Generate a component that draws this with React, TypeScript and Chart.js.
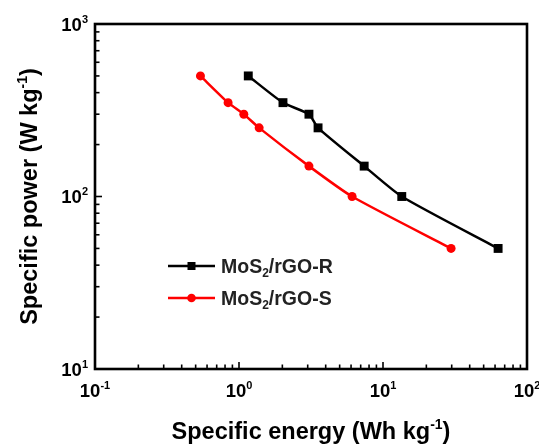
import React, { useEffect, useRef } from 'react';
import { Chart, registerables } from 'chart.js';

Chart.register(...registerables);

// ---- data ----
const seriesNames = ['MoS2/rGO-R', 'MoS2/rGO-S'];
const energyR = [1.16, 2.02, 3.06, 3.54, 7.4, 13.5, 63];
const powerR = [500, 350, 300, 250, 150, 100, 50];
const energyS = [0.54, 0.84, 1.08, 1.38, 3.06, 6.1, 29.7];
const powerS = [500, 350, 300, 250, 150, 100, 50];
const xDecades = [-1, 0, 1, 2];
const yDecades = [1, 2, 3];
const xTitle = 'Specific energy (Wh kg';
const yTitle = 'Specific power (W kg';
const unitExp = '-1';

const FONT = '"Liberation Sans", Arial, sans-serif';

type Part = { t: string; sup?: boolean; sub?: boolean };

function drawRich(
  ctx: CanvasRenderingContext2D,
  parts: Part[],
  x: number,
  y: number,
  size: number,
  align: 'left' | 'center' | 'right',
  weight: string,
  color: string
) {
  const fontFor = (p: Part) => `${weight} ${p.sup || p.sub ? Math.round(size * 0.6) : size}px ${FONT}`;
  let total = 0;
  const widths = parts.map((p) => {
    ctx.font = fontFor(p);
    const w = ctx.measureText(p.t).width;
    total += w;
    return w;
  });
  let cx = align === 'left' ? x : align === 'center' ? x - total / 2 : x - total;
  ctx.fillStyle = color;
  ctx.textBaseline = 'alphabetic';
  ctx.textAlign = 'left';
  parts.forEach((p, i) => {
    ctx.font = fontFor(p);
    const dy = p.sup ? -size * 0.42 : p.sub ? size * 0.22 : 0;
    ctx.fillText(p.t, cx, y + dy);
    cx += widths[i];
  });
}

function buildLogTicks(decades: number[]) {
  const out: { value: number }[] = [];
  for (let i = 0; i < decades.length; i++) {
    const base = Math.pow(10, decades[i]);
    if (i === decades.length - 1) {
      out.push({ value: base });
    } else {
      for (let m = 1; m <= 9; m++) out.push({ value: m * base });
    }
  }
  return out;
}

function labelParts(name: string): Part[] {
  const idx = name.indexOf('2');
  return [{ t: name.slice(0, idx) }, { t: '2', sub: true }, { t: name.slice(idx + 1) }];
}

const decorPlugin = {
  id: 'decor',
  afterDatasetsDraw(chart: any) {
    const ctx: CanvasRenderingContext2D = chart.ctx;
    const { left, right, top, bottom } = chart.chartArea;
    const xs = chart.scales.x;
    const ys = chart.scales.y;
    ctx.save();
    ctx.strokeStyle = '#000';
    ctx.lineWidth = 1.6;
    // inward ticks
    xs.ticks.forEach((t: any) => {
      const px = xs.getPixelForValue(t.value);
      const major = Math.abs(Math.log10(t.value) - Math.round(Math.log10(t.value))) < 1e-6;
      ctx.beginPath();
      ctx.moveTo(px, bottom);
      ctx.lineTo(px, bottom - (major ? 7 : 4.5));
      ctx.stroke();
    });
    ys.ticks.forEach((t: any) => {
      const py = ys.getPixelForValue(t.value);
      const major = Math.abs(Math.log10(t.value) - Math.round(Math.log10(t.value))) < 1e-6;
      ctx.beginPath();
      ctx.moveTo(left, py);
      ctx.lineTo(left + (major ? 7 : 4.5), py);
      ctx.stroke();
    });
    // frame
    ctx.lineWidth = 2.6;
    ctx.strokeRect(left, top, right - left, bottom - top);

    // tick labels
    const tsize = 18.5;
    xDecades.forEach((d) => {
      const px = xs.getPixelForValue(Math.pow(10, d));
      drawRich(ctx, [{ t: '10' }, { t: String(d), sup: true }], px, bottom + 28, tsize, 'center', 'bold', '#000');
    });
    yDecades.forEach((d) => {
      const py = ys.getPixelForValue(Math.pow(10, d));
      drawRich(ctx, [{ t: '10' }, { t: String(d), sup: true }], left - 7, py + 6.5, tsize, 'right', 'bold', '#000');
    });

    // axis titles
    drawRich(ctx, [{ t: xTitle }, { t: unitExp, sup: true }, { t: ')' }], (left + right) / 2, 439, 23.5, 'center', 'bold', '#000');
    ctx.save();
    ctx.translate(37, (top + bottom) / 2);
    ctx.rotate(-Math.PI / 2);
    drawRich(ctx, [{ t: yTitle }, { t: unitExp, sup: true }, { t: ')' }], 0, 0, 23.5, 'center', 'bold', '#000');
    ctx.restore();

    // legend
    const lx0 = left + 73;
    const lx1 = left + 120;
    const ly = [top + 242, top + 274];
    chart.data.datasets.forEach((ds: any, i: number) => {
      const y = ly[i];
      ctx.strokeStyle = ds.borderColor;
      ctx.lineWidth = ds.borderWidth;
      ctx.beginPath();
      ctx.moveTo(lx0, y);
      ctx.lineTo(lx1, y);
      ctx.stroke();
      ctx.fillStyle = ds.pointBackgroundColor;
      if (ds.pointStyle === 'rect') {
        ctx.fillRect((lx0 + lx1) / 2 - 4, y - 4, 8, 8);
      } else {
        ctx.beginPath();
        ctx.arc((lx0 + lx1) / 2, y, 4.3, 0, Math.PI * 2);
        ctx.fill();
      }
      drawRich(ctx, labelParts(ds.label), lx1 + 6, y + 7, 19.5, 'left', 'bold', '#222');
    });
    ctx.restore();
  },
};

export default function App() {
  const ref = useRef<HTMLCanvasElement | null>(null);
  useEffect(() => {
    if (!ref.current) return;
    const chart = new Chart(ref.current, {
      type: 'line',
      data: {
        datasets: [
          {
            label: seriesNames[0],
            data: energyR.map((x, i) => ({ x, y: powerR[i] })),
            borderColor: '#000000',
            backgroundColor: '#000000',
            pointBackgroundColor: '#000000',
            pointBorderColor: '#000000',
            pointStyle: 'rect',
            pointRadius: 6.3,
            pointBorderWidth: 0,
            borderWidth: 2.5,
            tension: 0.2,
          },
          {
            label: seriesNames[1],
            data: energyS.map((x, i) => ({ x, y: powerS[i] })),
            borderColor: '#ff0000',
            backgroundColor: '#ff0000',
            pointBackgroundColor: '#ff0000',
            pointBorderColor: '#ff0000',
            pointStyle: 'circle',
            pointRadius: 4.5,
            pointBorderWidth: 0,
            borderWidth: 2.5,
            tension: 0.2,
          },
        ],
      },
      options: {
        animation: false,
        responsive: true,
        maintainAspectRatio: false,
        layout: { padding: { left: 0, top: 24, right: 12, bottom: 0 } },
        plugins: { legend: { display: false }, tooltip: { enabled: false } },
        scales: {
          x: {
            type: 'logarithmic',
            min: 0.1,
            max: 100,
            grid: { display: false },
            border: { display: false },
            ticks: { display: false },
            afterBuildTicks: (s: any) => {
              s.ticks = buildLogTicks(xDecades);
            },
            afterFit: (s: any) => {
              s.height = 75;
            },
          },
          y: {
            type: 'logarithmic',
            min: 10,
            max: 1000,
            grid: { display: false },
            border: { display: false },
            ticks: { display: false },
            afterBuildTicks: (s: any) => {
              s.ticks = buildLogTicks(yDecades);
            },
            afterFit: (s: any) => {
              s.width = 95;
            },
          },
        },
      },
      plugins: [decorPlugin],
    } as any);
    return () => chart.destroy();
  }, []);
  return (
    <div style={{ position: 'absolute', left: 0, top: 0, width: 539, height: 444, background: '#fff' }}>
      <canvas ref={ref} />
    </div>
  );
}
